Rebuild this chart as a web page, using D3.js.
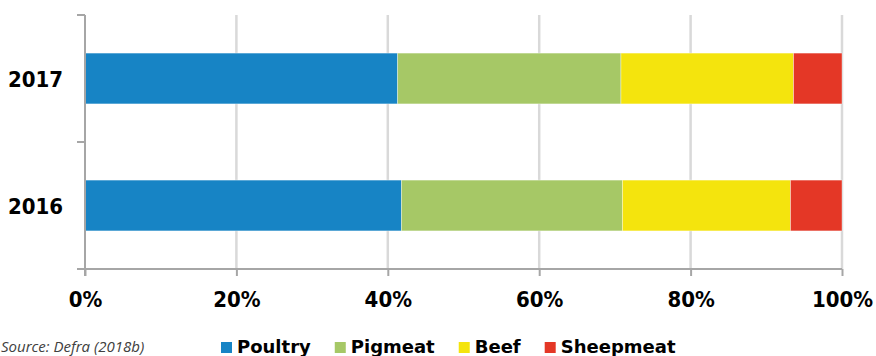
<!DOCTYPE html>
<html>
<head>
<meta charset="utf-8">
<script src="https://cdn.jsdelivr.net/npm/d3@7"></script>
<style>
  html, body { margin: 0; padding: 0; background: #fff; }
  svg { display: block; }
</style>
</head>
<body>
<svg id="chart" width="876" height="356"></svg>
<script>
// ---- Data ----
const years = ["2017", "2016"];
const seriesNames = ["Poultry", "Pigmeat", "Beef", "Sheepmeat"];
const poultry   = [41.3, 41.8];
const pigmeat   = [29.5, 29.2];
const beef      = [22.8, 22.2];
const sheepmeat = [6.4, 6.8];
const xTicks = [0, 20, 40, 60, 80, 100];
const colors = ["#1784c5", "#a6c866", "#f4e40d", "#e43726"];
const sourceText = "Source: Defra (2018b)";

const seriesValues = [poultry, pigmeat, beef, sheepmeat];
const rows = years.map((yr, i) => {
  const r = { year: yr };
  seriesNames.forEach((s, j) => r[s] = seriesValues[j][i]);
  return r;
});
const stacked = d3.stack().keys(seriesNames)(rows);

// ---- Layout ----
const svg = d3.select("#chart");
const mLeft = 85, mRight = 842, mTop = 15, mBottom = 269;

const x = d3.scaleLinear().domain([0, 100]).range([mLeft, mRight]);
const y = d3.scaleBand().domain(years).range([mTop, mBottom])
  .paddingInner(0.6).paddingOuter(0.3);

// gridlines
svg.append("g").selectAll("line")
  .data(xTicks.filter(t => t > 0))
  .join("line")
  .attr("x1", d => x(d)).attr("x2", d => x(d))
  .attr("y1", mTop).attr("y2", mBottom)
  .attr("stroke", "#d9d9d9").attr("stroke-width", 2.5);

// bars
svg.append("g").selectAll("g")
  .data(stacked)
  .join("g")
  .attr("fill", (d, i) => colors[i])
  .selectAll("rect")
  .data(d => d)
  .join("rect")
  .attr("x", d => x(d[0]))
  .attr("width", d => x(d[1]) - x(d[0]))
  .attr("y", d => y(d.data.year))
  .attr("height", y.bandwidth())
  .attr("stroke", "rgba(255,255,255,0.45)")
  .attr("stroke-width", 0.8);

// axes
const axisColor = "#a6a6a6";
// x axis
const xAxis = svg.append("g")
  .attr("transform", `translate(0,${mBottom})`)
  .call(d3.axisBottom(x).tickValues(xTicks).tickSize(7).tickFormat(d => d + "%"));
xAxis.select(".domain").attr("stroke", axisColor).attr("stroke-width", 2)
  .attr("d", `M${mLeft - 8},0H${mRight}`);
xAxis.selectAll(".tick line").attr("stroke", axisColor).attr("stroke-width", 2);
xAxis.selectAll(".tick text")
  .attr("y", 38).attr("dy", 0)
  .attr("fill", "#000")
  .style("font-family", "'DejaVu Sans Condensed', 'DejaVu Sans', sans-serif")
  .style("font-weight", "bold")
  .style("font-size", "22px");

// y axis (Excel-style: ticks at category boundaries)
const yAxisG = svg.append("g");
yAxisG.append("line")
  .attr("x1", mLeft).attr("x2", mLeft)
  .attr("y1", mTop).attr("y2", mBottom + 7)
  .attr("stroke", axisColor).attr("stroke-width", 2);
const boundaries = [mTop].concat(years.map(yr => y(yr) + y.bandwidth() + y.step() * 0.3));
yAxisG.selectAll("line.tk")
  .data(boundaries)
  .join("line").attr("class", "tk")
  .attr("x1", mLeft - 8).attr("x2", mLeft)
  .attr("y1", d => d).attr("y2", d => d)
  .attr("stroke", axisColor).attr("stroke-width", 2);
yAxisG.selectAll("text")
  .data(years)
  .join("text")
  .attr("x", 63)
  .attr("y", d => y(d) + y.bandwidth() / 2 + 8.5)
  .attr("text-anchor", "end")
  .attr("fill", "#000")
  .style("font-family", "'DejaVu Sans Condensed', 'DejaVu Sans', sans-serif")
  .style("font-weight", "bold")
  .style("font-size", "22px")
  .text(d => d);

// legend
const legend = svg.append("g");
let lx = 221;
seriesNames.forEach((name, i) => {
  legend.append("rect")
    .attr("x", lx).attr("y", 342)
    .attr("width", 11).attr("height", 11)
    .attr("fill", colors[i]);
  const t = legend.append("text")
    .attr("x", lx + 16).attr("y", 353)
    .attr("fill", "#000")
    .style("font-family", "'DejaVu Sans', sans-serif")
    .style("font-weight", "bold")
    .style("font-size", "18px")
    .text(name);
  const w = t.node().getComputedTextLength();
  lx = lx + 16 + w + 24;
});

// source
svg.append("text")
  .attr("x", 1).attr("y", 352)
  .attr("text-anchor", "start")
  .attr("fill", "#404040")
  .style("font-family", "'Open Sans', 'Noto Sans', sans-serif")
  .style("font-style", "italic")
  .style("font-size", "15px")
  .text(sourceText);
</script>
</body>
</html>
